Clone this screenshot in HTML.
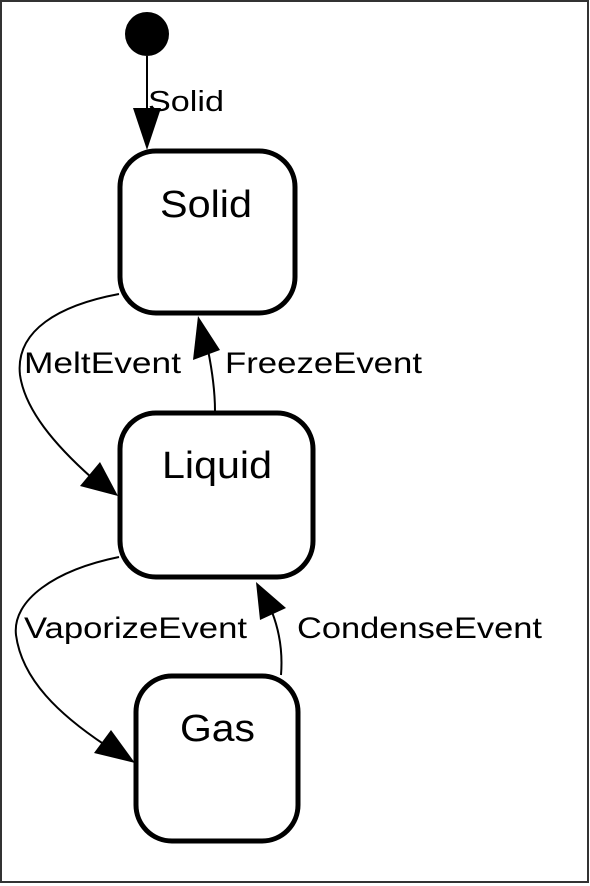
<!DOCTYPE html>
<html><head><style>
html,body{margin:0;padding:0;background:#fff;}
svg{display:block;}
text{font-family:"Liberation Sans",Arial,sans-serif;fill:#000;}
</style></head><body>
<svg width="590" height="886" viewBox="0 0 590 886" xmlns="http://www.w3.org/2000/svg">
<rect x="1" y="1" width="587" height="881" fill="#fff" stroke="#333" stroke-width="2"/>
<circle cx="147" cy="34" r="22" fill="#000"/>
<line x1="147" y1="56" x2="147" y2="110" stroke="#000" stroke-width="2"/>
<polygon points="133,108 161,108 147,150" fill="#000"/>
<text x="148" y="111" font-size="29" textLength="76" lengthAdjust="spacingAndGlyphs">Solid</text>

<rect x="120" y="151" width="175" height="162" rx="36" fill="none" stroke="#000" stroke-width="5"/>
<text x="160" y="217" font-size="38" textLength="92" lengthAdjust="spacingAndGlyphs">Solid</text>
<rect x="120" y="413" width="193" height="164" rx="36" fill="none" stroke="#000" stroke-width="5"/>
<text x="162" y="478" font-size="38" textLength="110" lengthAdjust="spacingAndGlyphs">Liquid</text>
<rect x="136" y="676" width="162" height="165" rx="36" fill="none" stroke="#000" stroke-width="5"/>
<text x="180" y="741" font-size="38" textLength="75" lengthAdjust="spacingAndGlyphs">Gas</text>

<!-- MeltEvent -->
<path d="M119,294 C60,305 15,330 20,375 C25,410 55,445 92,478" fill="none" stroke="#000" stroke-width="2"/>
<polygon points="80,486 100,462 118,496" fill="#000"/>
<text x="24" y="373" font-size="30" textLength="157" lengthAdjust="spacingAndGlyphs">MeltEvent</text>
<!-- FreezeEvent -->
<path d="M215,411 C215,390 212,370 208,350" fill="none" stroke="#000" stroke-width="2"/>
<polygon points="193,360 220,350 198,316" fill="#000"/>
<text x="225" y="373" font-size="30" textLength="197" lengthAdjust="spacingAndGlyphs">FreezeEvent</text>
<!-- VaporizeEvent -->
<path d="M119,557 C55,570 12,600 16,635 C22,680 60,715 105,745" fill="none" stroke="#000" stroke-width="2"/>
<polygon points="94,753 111,730 135,763" fill="#000"/>
<text x="24" y="638" font-size="30" textLength="223" lengthAdjust="spacingAndGlyphs">VaporizeEvent</text>
<!-- CondenseEvent -->
<path d="M281,675 C283,650 279,630 272,612" fill="none" stroke="#000" stroke-width="2"/>
<polygon points="260,620 286,608 256,582" fill="#000"/>
<text x="297" y="638" font-size="30" textLength="245" lengthAdjust="spacingAndGlyphs">CondenseEvent</text>
</svg>
</body></html>
